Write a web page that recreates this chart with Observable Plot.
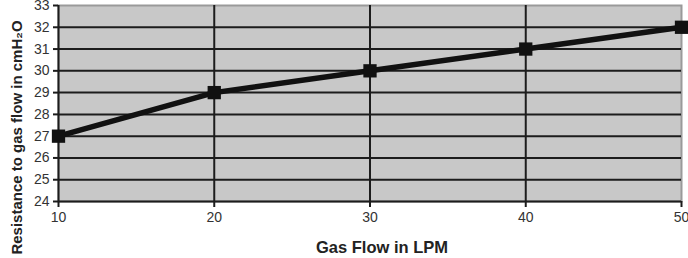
<!DOCTYPE html>
<html>
<head>
<meta charset="utf-8">
<script src="https://cdn.jsdelivr.net/npm/d3@7"></script>
<script src="https://cdn.jsdelivr.net/npm/@observablehq/plot@0.6"></script>
<style>
  html, body { margin: 0; padding: 0; background: #fff; }
  #chart svg { display: block; background: #fff; }
</style>
</head>
<body>
<div id="chart"></div>
<script>
const gasFlow = [10, 20, 30, 40, 50];
const resistance = [27, 29, 30, 31, 32];
const yTicks = [24, 25, 26, 27, 28, 29, 30, 31, 32, 33];
const xTicks = [10, 20, 30, 40, 50];
const xLabel = "Gas Flow in LPM";
const yLabel = "Resistance to gas flow in cmH\u2082O";

const data = gasFlow.map((x, i) => ({x, y: resistance[i]}));
const font = "'Liberation Sans', Arial, sans-serif";

const chart = Plot.plot({
  width: 688,
  height: 258,
  marginLeft: 58,
  marginRight: 7,
  marginTop: 5,
  marginBottom: 57,
  style: {fontFamily: font, fontSize: "14px", color: "#333", background: "#fff"},
  x: {domain: [10, 50], ticks: xTicks, label: null},
  y: {domain: [24, 33], ticks: yTicks, label: null},
  marks: [
    Plot.frame({fill: "#c8c8c8", stroke: "#9a9a9a", strokeWidth: 2}),
    Plot.ruleY(yTicks.filter(d => d > 24 && d < 33), {stroke: "#1c1c1c", strokeWidth: 2}),
    Plot.ruleX(xTicks.filter(d => d > 10 && d < 50), {stroke: "#1c1c1c", strokeWidth: 2}),
    Plot.ruleY([24], {stroke: "#1c1c1c", strokeWidth: 2}),
    Plot.ruleX([10], {stroke: "#1c1c1c", strokeWidth: 2}),
    Plot.axisY({ticks: yTicks, tickSize: 5, tickPadding: 4, stroke: "#1c1c1c", strokeWidth: 2, fill: "#333", fontSize: 14, label: null}),
    Plot.axisX({ticks: xTicks, tickSize: 6, tickPadding: 5, stroke: "#1c1c1c", strokeWidth: 2, fill: "#333", fontSize: 14, label: null}),
    Plot.line(data, {x: "x", y: "y", stroke: "#111", strokeWidth: 5.5}),
    Plot.dot(data, {x: "x", y: "y", symbol: "square", r: 7.5, fill: "#111", stroke: "none"}),
    Plot.text([xLabel], {frameAnchor: "bottom", dx: 12, dy: 51, text: d => d, fontWeight: "bold", fontSize: 16.5, fill: "#222"}),
    Plot.text([yLabel], {frameAnchor: "left", textAnchor: "middle", dx: -41, dy: 34, rotate: -90, text: d => d, fontWeight: "bold", fontSize: 15, fill: "#222"})
  ]
});
document.getElementById("chart").append(chart);
</script>
</body>
</html>
